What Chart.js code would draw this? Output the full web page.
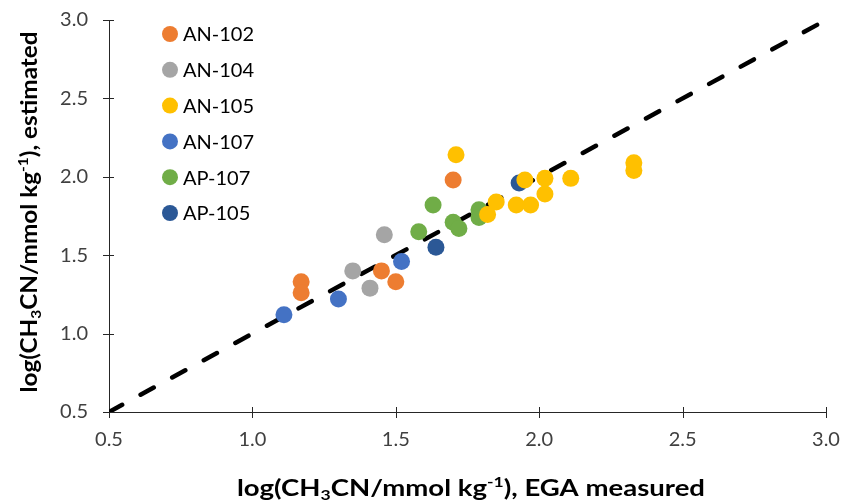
<!DOCTYPE html>
<html>
<head>
<meta charset="utf-8">
<title>CH3CN estimado vs medido</title>
<script src="https://cdn.jsdelivr.net/npm/chart.js"></script>
<style>
  html, body { margin: 0; padding: 0; background: #fff; }
  #wrap { width: 842px; height: 502px; }
</style>
</head>
<body>
<div id="wrap"><canvas id="grafica" width="842" height="502"></canvas></div>
<script>
// 1. DATOS (log CH3CN / mmol kg-1): x = EGA measured, y = estimated
const an102X = [1.17, 1.17, 1.45, 1.50, 1.70];
const an102Y = [1.33, 1.26, 1.40, 1.33, 1.98];

const an104X = [1.35, 1.46, 1.41];
const an104Y = [1.40, 1.63, 1.29];

const an105X = [1.71, 2.33, 2.33, 2.11, 2.02, 2.02, 1.95, 1.92, 1.97, 1.85, 1.82];
const an105Y = [2.14, 2.09, 2.04, 1.99, 1.99, 1.89, 1.98, 1.82, 1.82, 1.84, 1.76];

const an107X = [1.11, 1.30, 1.52];
const an107Y = [1.12, 1.22, 1.46];

const ap107X = [1.63, 1.58, 1.70, 1.72, 1.79, 1.79];
const ap107Y = [1.82, 1.65, 1.71, 1.67, 1.79, 1.74];

const ap105X = [1.64, 1.93];
const ap105Y = [1.55, 1.96];

// línea 1:1
const parityX = [0.5, 3.0];
const parityY = [0.5, 3.0];

const seriesNames = ['AN-102', 'AN-104', 'AN-105', 'AN-107', 'AP-107', 'AP-105'];
const xTicks = [0.5, 1.0, 1.5, 2.0, 2.5, 3.0];
const yTicks = [0.5, 1.0, 1.5, 2.0, 2.5, 3.0];

// 2. ESTILO
const colores = ['#ED7D31', '#A5A5A5', '#FFC000', '#4472C4', '#70AD47', '#2B5896'];
const FONT = 'Lato, Carlito, "Open Sans", sans-serif';
const AXIS = '#262626';

const zip = (xs, ys) => xs.map((x, i) => ({ x: x, y: ys[i] }));
const seriesX = [an102X, an104X, an105X, an107X, ap107X, ap105X];
const seriesY = [an102Y, an104Y, an105Y, an107Y, ap107Y, ap105Y];

const datasets = seriesNames.map((n, i) => ({
  type: 'scatter',
  label: n,
  data: zip(seriesX[i], seriesY[i]),
  backgroundColor: colores[i],
  borderColor: colores[i],
  borderWidth: 0,
  pointRadius: 8.5,
  order: 1
}));

datasets.push({
  type: 'line',
  label: '1:1',
  data: zip(parityX, parityY),
  borderColor: '#000',
  borderWidth: 4.5,
  borderDash: [15, 21],
  borderCapStyle: 'round',
  pointRadius: 0,
  fill: false,
  order: 10
});

// 3. PLUGINS
const crossTicks = {
  id: 'crossTicks',
  beforeDatasetsDraw(chart) {
    const { ctx, scales: { x, y } } = chart;
    ctx.save();
    ctx.strokeStyle = AXIS;
    ctx.lineWidth = 1;
    ctx.beginPath();
    xTicks.forEach(v => {
      const px = Math.round(x.getPixelForValue(v)) + 0.5;
      ctx.moveTo(px, y.bottom - 5); ctx.lineTo(px, y.bottom + 6);
    });
    yTicks.forEach(v => {
      const py = Math.round(y.getPixelForValue(v)) + 0.5;
      ctx.moveTo(x.left - 6, py); ctx.lineTo(x.left + 5, py);
    });
    ctx.stroke();
    ctx.restore();
  }
};

// texto con subíndice / superíndice, ancho ajustado
function richText(ctx, parts, size, cx, baseY, ancho) {
  const small = Math.round(size * 0.62);
  const fontOf = m => 'bold ' + (m ? small : size) + 'px ' + FONT;
  let total = 0;
  parts.forEach(p => { ctx.font = fontOf(p[1]); total += ctx.measureText(p[0]).width; });
  ctx.save();
  ctx.translate(cx, baseY);
  ctx.scale(ancho / total, 1);
  let x = -total / 2;
  ctx.textBaseline = 'alphabetic';
  ctx.textAlign = 'left';
  parts.forEach(p => {
    ctx.font = fontOf(p[1]);
    let dy = 0;
    if (p[1] === 'sub') dy = size * 0.2;
    if (p[1] === 'sup') dy = -size * 0.42;
    ctx.fillText(p[0], x, dy);
    x += ctx.measureText(p[0]).width;
  });
  ctx.restore();
}

const axisTitles = {
  id: 'axisTitles',
  afterDraw(chart) {
    const { ctx } = chart;
    ctx.save();
    ctx.fillStyle = '#000';
    richText(ctx, [['log(CH', ''], ['3', 'sub'], ['CN/mmol kg', ''], ['-1', 'sup'], ['), EGA measured', '']],
      22, 471, 496, 468);
    ctx.translate(37, 212);
    ctx.rotate(-Math.PI / 2);
    richText(ctx, [['log(CH', ''], ['3', 'sub'], ['CN/mmol kg', ''], ['-1', 'sup'], ['), estimated', '']],
      22, 0, 0, 361);
    ctx.restore();
  }
};

const legendBox = {
  id: 'legendBox',
  afterDraw(chart) {
    const { ctx, chartArea: a } = chart;
    ctx.save();
    ctx.font = '20px ' + FONT;
    ctx.textBaseline = 'middle';
    ctx.textAlign = 'left';
    chart.data.datasets.forEach((ds, i) => {
      if (ds.type !== 'scatter') return;
      const cy = a.top + 14 + i * 35.8;
      const cx = a.left + 61;
      ctx.fillStyle = ds.backgroundColor;
      ctx.beginPath(); ctx.arc(cx, cy, 8, 0, Math.PI * 2); ctx.fill();
      ctx.fillStyle = '#000';
      ctx.fillText(ds.label, cx + 13, cy + 1);
    });
    ctx.restore();
  }
};

// 4. GRÁFICA
new Chart(document.getElementById('grafica'), {
  data: { datasets: datasets },
  options: {
    responsive: false,
    animation: false,
    events: [],
    layout: { padding: { top: 20, right: 16, left: 0, bottom: 0 } },
    plugins: { legend: { display: false }, tooltip: { enabled: false } },
    scales: {
      x: {
        type: 'linear', min: 0.5, max: 3.0,
        afterBuildTicks: s => { s.ticks = xTicks.map(v => ({ value: v })); },
        afterFit: s => { s.height = 90; s.paddingLeft = 0; s.paddingRight = 0; },
        ticks: { callback: v => Number(v).toFixed(1), color: '#404040', font: { family: FONT, size: 20 }, padding: 16, maxRotation: 0 },
        grid: { display: true, drawOnChartArea: false, drawTicks: false },
        border: { display: true, color: AXIS, width: 1 }
      },
      y: {
        type: 'linear', min: 0.5, max: 3.0,
        afterBuildTicks: s => { s.ticks = yTicks.map(v => ({ value: v })); },
        afterFit: s => { s.width = 109; s.paddingTop = 0; s.paddingBottom = 0; },
        ticks: { callback: v => Number(v).toFixed(1), color: '#404040', font: { family: FONT, size: 20 }, padding: 21 },
        grid: { display: true, drawOnChartArea: false, drawTicks: false },
        border: { display: true, color: AXIS, width: 1 }
      }
    }
  },
  plugins: [crossTicks, axisTitles, legendBox]
});
</script>
</body>
</html>
